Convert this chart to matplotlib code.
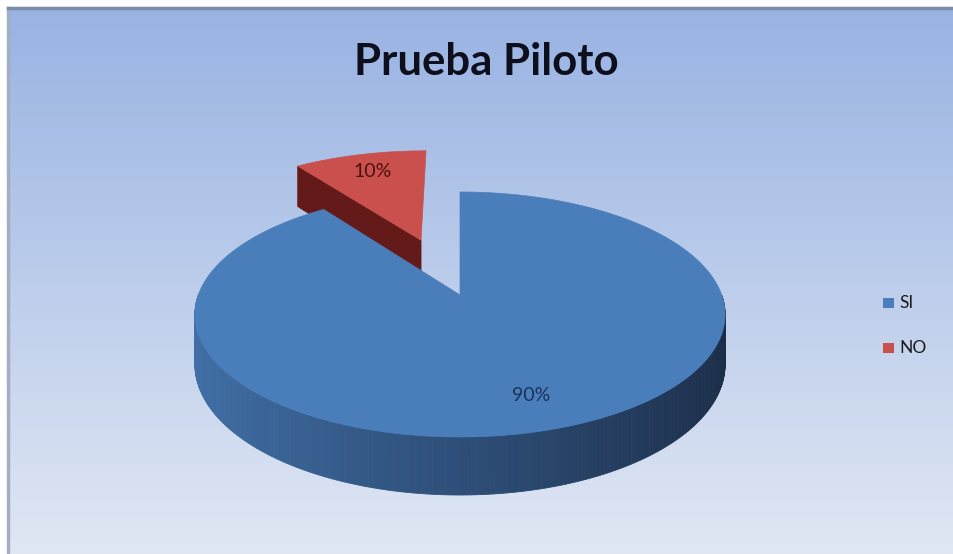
import numpy as np
import matplotlib.pyplot as plt
from matplotlib.patches import Polygon, Rectangle
from matplotlib.colors import to_rgb

# survey answers
labels = ['SI', 'NO']
values = [90, 10]
explode = [0.0, 0.52]
top_colors = ['#4a7ebb', '#c9504d']
side_light = ['#4170a8', '#6e201d']
side_dark = ['#1b2d48', '#581512']
text_colors = ['#1e3257', '#4a1210']
title = 'Prueba Piloto'

# 3d pie geometry (pixels)
cx, cy = 460, 295
A, B = 261.7, 119.4
k = 0.159
depth = 48.8


def proj(u, v, z=0.0):
    s = 1.0 / (1.0 + k * v)
    return cx + A * u * s, cy - B * v * s + depth * z * s


def mix(c1, c2, t):
    a, b = np.array(to_rgb(c1)), np.array(to_rgb(c2))
    return tuple(a + (b - a) * t)


W, H = 954, 554
fig = plt.figure(figsize=(W / 100, H / 100), dpi=100)
ax = fig.add_axes([0, 0, 1, 1])
ax.set_xlim(0, W)
ax.set_ylim(H, 0)
ax.axis('off')

# chart area background: vertical gradient drawn as thin bands
rows = np.arange(8, H, 2)
for y0 in rows:
    col = mix('#98b2e2', '#e0e7f3', (y0 - 8) / (H - 8))
    ax.add_patch(Rectangle((8, y0), W, 2.2, fc=col, ec='none', zorder=0))
ax.plot([8, 8], [H, 8], color='#a3afc0', lw=2.5, zorder=1)
ax.plot([8, W], [8, 8], color='#7a8ca6', lw=2.5, zorder=1)

ax.text(486, 62, title, ha='center', va='center', fontsize=31.5,
        fontweight='bold', family='Lato', color='#0e0f1c', zorder=5)

fracs = np.array(values) / sum(values)
ends = 90 - np.concatenate([[0], np.cumsum(fracs) * 360])
slices = []
for i in range(len(values)):
    t1, t2 = ends[i], ends[i + 1]
    mid = np.radians((t1 + t2) / 2)
    slices.append((i, t1, t2, mid))

# back slices first
order = sorted(slices, key=lambda s: -np.sin(s[3]))
z = 2
for i, t1, t2, mid in order:
    ou, ov = explode[i] * np.cos(mid), explode[i] * np.sin(mid)
    th = np.radians(np.linspace(t2, t1, 400))

    # radial walls
    for ang, vis in ((t1, np.cos(np.radians(t1)) < -1e-6),
                     (t2, np.cos(np.radians(t2)) > 1e-6)):
        if not vis:
            continue
        a = np.radians(ang)
        ru, rv = ou + np.cos(a), ov + np.sin(a)
        pts = [proj(ou, ov, 0), proj(ru, rv, 0), proj(ru, rv, 1), proj(ou, ov, 1)]
        col = mix(side_light[i], side_dark[i], 0.5)
        ax.add_patch(Polygon(pts, closed=True, fc=col, ec=col, lw=0.6, zorder=z))

    # outer wall, front half only
    for a0, a1 in zip(th[:-1], th[1:]):
        am = (a0 + a1) / 2
        if np.sin(am) >= 0:
            continue
        u0, v0 = ou + np.cos(a0), ov + np.sin(a0)
        u1, v1 = ou + np.cos(a1), ov + np.sin(a1)
        pts = [proj(u0, v0, 0), proj(u1, v1, 0), proj(u1, v1, 1), proj(u0, v0, 1)]
        col = mix(side_light[i], side_dark[i], (np.cos(am) + 1) / 2)
        ax.add_patch(Polygon(pts, closed=True, fc=col, ec=col, lw=0.6, zorder=z))

    # top face
    pts = [proj(ou, ov)] + [proj(ou + np.cos(a), ov + np.sin(a)) for a in th]
    ax.add_patch(Polygon(pts, closed=True, fc=top_colors[i], ec=top_colors[i],
                         lw=0.5, zorder=z + 1))

    # percentage label
    r = explode[i] + 0.78
    lx, ly = proj(r * np.cos(mid), r * np.sin(mid))
    ax.text(lx, ly, f'{values[i]}%', ha='center', va='center', fontsize=14,
            family='Lato', color=text_colors[i], zorder=z + 2)
    z += 3

# legend
for j, lab in enumerate(labels):
    y = 303 + j * 45
    ax.add_patch(Rectangle((883, y - 5), 11, 10, fc=top_colors[j], ec='none', zorder=10))
    ax.text(899, y, lab, ha='left', va='center', fontsize=12.5, family='Lato',
            color='#1a1a1a', zorder=10)

fig.savefig('out.png', dpi=100, facecolor='white')
